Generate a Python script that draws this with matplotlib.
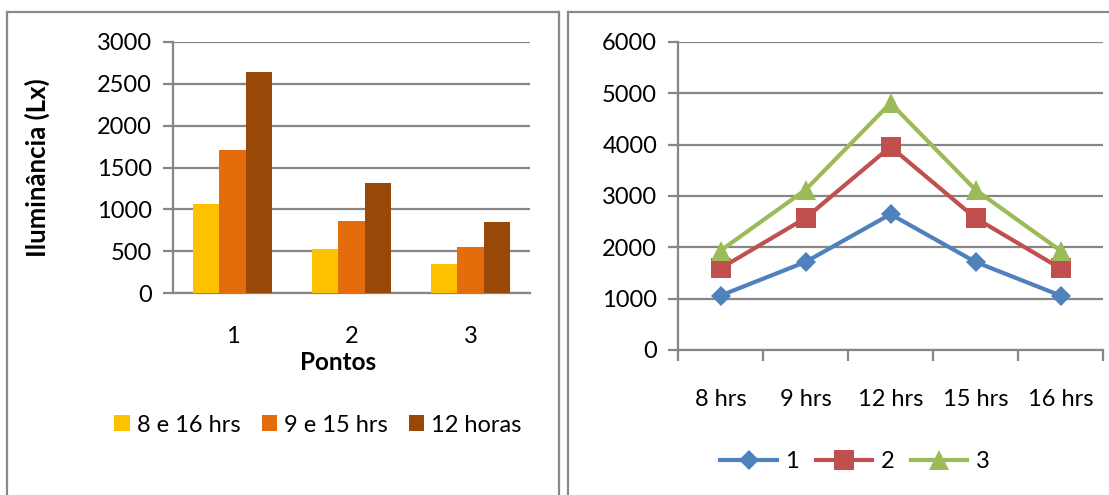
import numpy as np
import matplotlib
matplotlib.use("Agg")
import matplotlib.pyplot as plt
from matplotlib.lines import Line2D

plt.rcParams['font.family'] = ['Lato', 'DejaVu Sans']

# bar chart: illuminance per measuring point
pontos = ["1", "2", "3"]
h8_16 = [1060, 530, 345]
h9_15 = [1715, 855, 550]
h12 = [2645, 1315, 850]
bar_names = ["8 e 16 hrs", "9 e 15 hrs", "12 horas"]

# line chart: readings through the day, stacked by point
horas = ["8 hrs", "9 hrs", "12 hrs", "15 hrs", "16 hrs"]
ponto1 = [1060, 1715, 2645, 1715, 1060]
ponto2 = [530, 855, 1315, 855, 530]
ponto3 = [345, 550, 850, 550, 345]

W, H = 1109, 495
fig = plt.figure(figsize=(W / 100, H / 100), dpi=100)


def fx(px):
    return px / W


def fy(py):
    return 1 - py / H


grid_c = "#868686"
fs = 17

# panel frames
frame_c = "#898989"
for xs, ys in [
    ([7, 559], [12, 12]), ([7, 7], [12, H]), ([559, 559], [12, H]),
    ([568, W], [12, 12]), ([568, 568], [12, H]),
]:
    fig.add_artist(Line2D([fx(x) for x in xs], [fy(y) for y in ys],
                          color=frame_c, lw=1.6))

# ---- left: grouped bars
ax1 = fig.add_axes([fx(173), fy(293), fx(530) - fx(173), fy(42) - fy(293)])
x = np.arange(1, len(pontos) + 1)
w = 0.223
cols = ["#FFC000", "#E46C0A", "#984807"]
for i, (vals, name) in enumerate(zip([h8_16, h9_15, h12], bar_names)):
    ax1.bar(x + (i - 1) * w, vals, w, color=cols[i], label=name, zorder=3)
ax1.set_xlim(0.5, 3.5)
ax1.set_ylim(0, 3000)
ax1.set_yticks(np.arange(0, 3001, 500))
ax1.set_xticks(x)
ax1.set_xticklabels(pontos)
ax1.yaxis.grid(True, color=grid_c, lw=1.6, zorder=0)
ax1.tick_params(axis='y', length=7, width=1.6, color=grid_c, labelsize=fs, pad=8)
ax1.tick_params(axis='x', length=0, labelsize=fs, pad=24)
for s in ["top", "right"]:
    ax1.spines[s].set_visible(False)
for s in ["left", "bottom"]:
    ax1.spines[s].set_color(grid_c)
    ax1.spines[s].set_linewidth(1.6)
ax1.set_ylabel("Iluminância (Lx)", fontsize=18.5, fontweight="bold")
ax1.yaxis.set_label_coords((50 - 173) / (530 - 173), 0.5)
fig.text(fx(338), fy(362), "Pontos", fontsize=17.5, fontweight="bold",
         ha="center", va="center")
fig.legend(*ax1.get_legend_handles_labels(), loc="center",
           bbox_to_anchor=(fx(318), fy(425)), ncol=3, frameon=False,
           fontsize=fs, handlelength=0.65, handleheight=0.65,
           handletextpad=0.3, columnspacing=0.9)

# ---- right: stacked lines
ax2 = fig.add_axes([fx(678), fy(350), fx(1103) - fx(678), fy(42) - fy(350)])
pos = np.arange(len(horas)) + 0.5
stack = np.cumsum([ponto1, ponto2, ponto3], axis=0)
styles = [("#4F81BD", "D", 10.5), ("#C0504D", "s", 14), ("#9BBB59", "^", 14)]
for vals, (c, m, ms), lab in zip(stack, styles, ["1", "2", "3"]):
    ax2.plot(pos, vals, color=c, lw=3, marker=m, markersize=ms,
             markeredgewidth=0, label=lab, zorder=3)
ax2.set_xlim(0, len(horas))
ax2.set_ylim(0, 6000)
ax2.set_yticks(np.arange(0, 6001, 1000))
ax2.set_xticks(np.arange(len(horas) + 1))
ax2.set_xticklabels([])
ax2.set_xticks(pos, minor=True)
ax2.set_xticklabels(horas, minor=True)
ax2.yaxis.grid(True, color=grid_c, lw=1.6, zorder=0)
ax2.tick_params(axis='y', length=7, width=1.6, color=grid_c, labelsize=fs, pad=8)
ax2.tick_params(axis='x', which='major', length=8, width=1.6, color=grid_c)
ax2.tick_params(axis='x', which='minor', length=0, labelsize=fs, pad=28)
for s in ["top", "right"]:
    ax2.spines[s].set_visible(False)
for s in ["left", "bottom"]:
    ax2.spines[s].set_color(grid_c)
    ax2.spines[s].set_linewidth(1.6)
fig.legend(*ax2.get_legend_handles_labels(), loc="center",
           bbox_to_anchor=(fx(855), fy(462)), ncol=3, frameon=False,
           fontsize=fs, handlelength=2.4, handletextpad=0.35,
           columnspacing=0.7)

fig.savefig("out.png", dpi=100)
